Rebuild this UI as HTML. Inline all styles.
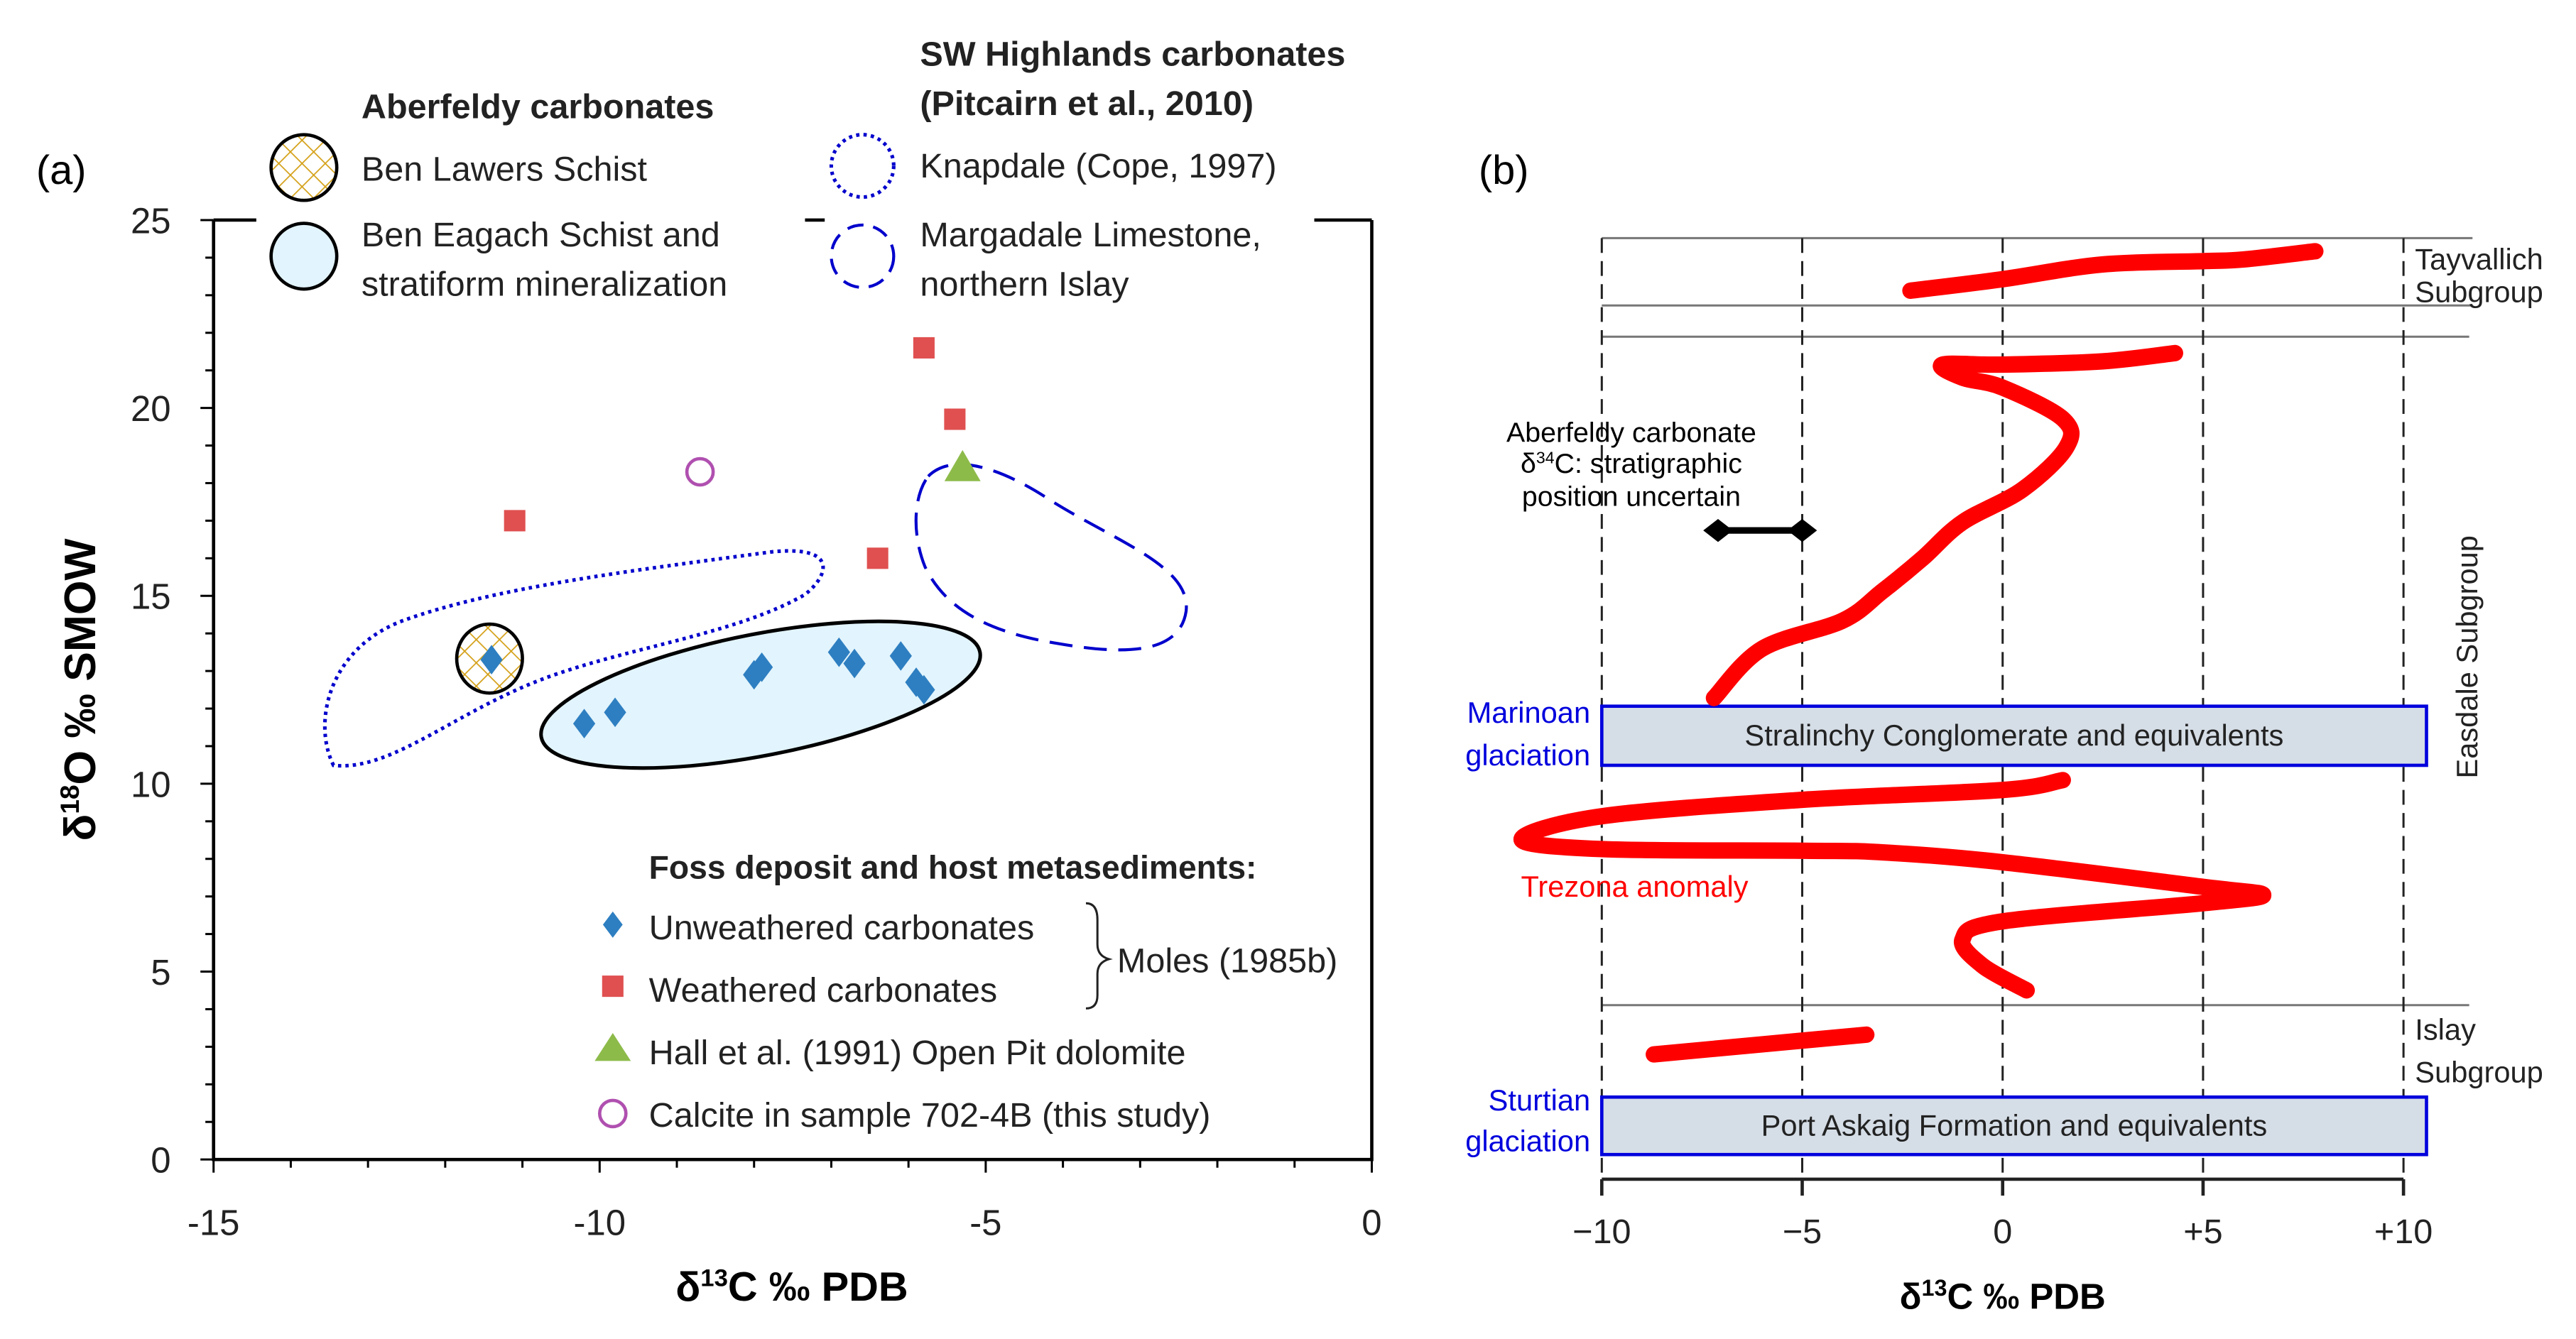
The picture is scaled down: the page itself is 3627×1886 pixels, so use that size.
<!DOCTYPE html>
<html><head><meta charset="utf-8"><style>
html,body{margin:0;padding:0;background:#fff}
svg{display:block}
text{font-family:"Liberation Sans","DejaVu Sans",sans-serif}
</style></head><body>
<svg id="fig" width="3627" height="1886" viewBox="0 0 1568 815.3" preserveAspectRatio="none" xmlns="http://www.w3.org/2000/svg">
<defs>
<pattern id="hatch" width="10" height="10" patternUnits="userSpaceOnUse" patternTransform="rotate(45)">
<rect width="10" height="10" fill="#fff"/>
<line x1="0" y1="0" x2="0" y2="10" stroke="#d4a017" stroke-width="1.5"/>
<line x1="0" y1="0" x2="10" y2="0" stroke="#d4a017" stroke-width="1.5"/>
</pattern>
</defs>
<g id="panelA"></g>
<g id="panelB"></g>
</svg>
<script>
// ---------- Panel (a) data ----------
const unweatheredX = [-11.4,-10.2,-9.8,-8.0,-7.9,-6.9,-6.7,-6.1,-5.9,-5.8];
const unweatheredY = [13.3,11.6,11.9,12.9,13.1,13.5,13.2,13.4,12.7,12.5];
const weatheredX = [-11.1,-5.8,-5.4,-6.4];
const weatheredY = [17.0,21.6,19.7,16.0];
const hallX = [-5.3];
const hallY = [18.4];
const calciteX = [-8.7];
const calciteY = [18.3];
const xTicksA = [-15,-10,-5,0];
const yTicksA = [0,5,10,15,20,25];
const xTickLabelsA = ["-15","-10","-5","0"];
const yTickLabelsA = ["0","5","10","15","20","25"];

// ---------- Panel (b) data ----------
const tayX = [-2.3,0,2.5,5,6,7.8];
const tayY = [177,170,161,159,158,153];
const upperX = [4.3,2.5,0,-1.5,-1,0,1.5,1.6,0.5,-1,-2,-3,-4,-6,-7.2];
const upperY = [215,220,222,222,230,236,255,272,298,318,340,360,378,395,425];
const trezonaX = [1.5,0,-5,-10,-12,-10,-5,-3,0,5,6.5,5,0,-1,-0.5,0.6];
const trezonaY = [475,481,487,497,511,517,518,519,525,540,545,550,561,572,588,603];
const islayX = [-8.7,-3.4];
const islayY = [642,630];
const xTicksB = [-10,-5,0,5,10];
const xTickLabelsB = ["\u221210","\u22125","0","+5","+10"];

const NS="http://www.w3.org/2000/svg";
function mk(parent,tag,attrs,txt){const e=document.createElementNS(NS,tag);for(const k in attrs)e.setAttribute(k,attrs[k]);if(txt!==undefined)e.textContent=txt;parent.appendChild(e);return e;}

// ---- Panel A ----
const A=document.getElementById('panelA');
const ax=v=>130+(v+15)/15*705;
const ay=v=>706-v/25*572;
let e;
e=mk(A,'text',{x:22,y:112,'font-size':25},'(a)');


e=mk(A,'path',{d:'M130,134 V706 H835 V134 M130,134 H156 M490,134 H502 M800,134 H835',fill:'none',stroke:'#000','stroke-width':2});


for(let v=0;v<=25;v++){
  const L=(v%5===0)?8:5;
  e=mk(A,'line',{x1:130-L,x2:130,y1:ay(v),y2:ay(v),stroke:'#000','stroke-width':1.3});
  
  
}
for(let v=-15;v<=0;v++){
  e=mk(A,'line',{x1:ax(v),x2:ax(v),y1:706,y2:706+(v%5===0?8:5),stroke:'#000','stroke-width':1.3});
  
  
}
yTicksA.forEach((v,i)=>{e=mk(A,'text',{x:104,y:ay(v)+8,'font-size':22,'text-anchor':'end',fill:'#222'},yTickLabelsA[i]);

});
xTicksA.forEach((v,i)=>{e=mk(A,'text',{x:ax(v),y:752,'font-size':22,'text-anchor':'middle',fill:'#222'},xTickLabelsA[i]);

});
e=mk(A,'text',{x:482,y:792,'font-size':25,'font-weight':'bold','text-anchor':'middle'});
e.innerHTML='δ<tspan dy="-9" font-size="15">13</tspan><tspan dy="9">C ‰ PDB</tspan>';


e=mk(A,'text',{x:0,y:0,'font-size':27,'font-weight':'bold','text-anchor':'middle',transform:'translate(58,420) rotate(-90)'});
e.innerHTML='δ<tspan dy="-10" font-size="16">18</tspan><tspan dy="10">O ‰ SMOW</tspan>';


e=mk(A,'path',{d:'M203,466 C190,440 200,395 245,378 C300,358 380,348 470,336 C510,332 505,350 490,362 C450,385 390,393 340,410 C280,430 240,470 203,466 Z',fill:'none',stroke:'#0000cc','stroke-width':2.2,'stroke-dasharray':'2,2.5'});


e=mk(A,'path',{d:'M565,290 C580,275 610,285 640,305 C680,330 725,345 722,372 C718,400 680,398 645,392 C600,385 575,370 563,345 C555,325 556,302 565,290 Z',fill:'none',stroke:'#0000cc','stroke-width':1.8,'stroke-dasharray':'14,7'});


e=mk(A,'ellipse',{cx:463,cy:423,rx:136,ry:37,transform:'rotate(-11 463 423)',fill:'#e2f4fd',stroke:'#000','stroke-width':2.2});


e=mk(A,'ellipse',{cx:298,cy:401,rx:20,ry:21,fill:'url(#hatch)',stroke:'#000','stroke-width':2});


function diamond(g,cx,cy,s,fill){return mk(g,'path',{d:`M${cx},${cy-s} L${cx+s*0.75},${cy} L${cx},${cy+s} L${cx-s*0.75},${cy} Z`,fill:fill});}
unweatheredX.forEach((v,i)=>{e=diamond(A,ax(v),ay(unweatheredY[i]),9,'#2e7fc1');

});
weatheredX.forEach((v,i)=>{e=mk(A,'rect',{x:ax(v)-6.5,y:ay(weatheredY[i])-6.5,width:13,height:13,fill:'#e05050'});

});
hallX.forEach((v,i)=>{const cx=ax(v),cy=ay(hallY[i]);e=mk(A,'path',{d:`M${cx},${cy-11} L${cx+11},${cy+8} L${cx-11},${cy+8} Z`,fill:'#8dbb4a'});

});
calciteX.forEach((v,i)=>{e=mk(A,'circle',{cx:ax(v),cy:ay(calciteY[i]),r:8,fill:'none',stroke:'#b050b0','stroke-width':2});

});
const lg=mk(A,'g',{});


mk(lg,'text',{x:220,y:72,'font-size':21,'font-weight':'bold',fill:'#222'},'Aberfeldy carbonates');
mk(lg,'circle',{cx:185,cy:102,r:20,fill:'url(#hatch)',stroke:'#000','stroke-width':2});
mk(lg,'text',{x:220,y:110,'font-size':21,fill:'#222'},'Ben Lawers Schist');
mk(lg,'circle',{cx:185,cy:156,r:20,fill:'#e2f4fd',stroke:'#000','stroke-width':2});
mk(lg,'text',{x:220,y:150,'font-size':21,fill:'#222'},'Ben Eagach Schist and');
mk(lg,'text',{x:220,y:180,'font-size':21,fill:'#222'},'stratiform mineralization');
mk(lg,'text',{x:560,y:40,'font-size':21,'font-weight':'bold',fill:'#222'},'SW Highlands carbonates');
mk(lg,'text',{x:560,y:70,'font-size':21,'font-weight':'bold',fill:'#222'},'(Pitcairn et al., 2010)');
mk(lg,'circle',{cx:525,cy:101,r:19,fill:'none',stroke:'#0000cc','stroke-width':2.2,'stroke-dasharray':'2,2.5'});
mk(lg,'text',{x:560,y:108,'font-size':21,fill:'#222'},'Knapdale (Cope, 1997)');
mk(lg,'circle',{cx:525,cy:156,r:19,fill:'none',stroke:'#0000cc','stroke-width':1.8,'stroke-dasharray':'10,6'});
mk(lg,'text',{x:560,y:150,'font-size':21,fill:'#222'},'Margadale Limestone,');
mk(lg,'text',{x:560,y:180,'font-size':21,fill:'#222'},'northern Islay');
const fl=mk(A,'g',{});


mk(fl,'text',{x:395,y:535,'font-size':20,'font-weight':'bold',fill:'#222'},'Foss deposit and host metasediments:');
diamond(fl,373,563,8,'#2e7fc1');
mk(fl,'text',{x:395,y:572,'font-size':21,fill:'#222'},'Unweathered carbonates');
mk(fl,'rect',{x:366.5,y:594,width:13,height:13,fill:'#e05050'});
mk(fl,'text',{x:395,y:610,'font-size':21,fill:'#222'},'Weathered carbonates');
mk(fl,'path',{d:'M373,629 L384,646 L362,646 Z',fill:'#8dbb4a'});
mk(fl,'text',{x:395,y:648,'font-size':21,fill:'#222'},'Hall et al. (1991) Open Pit dolomite');
mk(fl,'circle',{cx:373,cy:678,r:8,fill:'none',stroke:'#b050b0','stroke-width':2});
mk(fl,'text',{x:395,y:686,'font-size':21,fill:'#222'},'Calcite in sample 702-4B (this study)');
mk(fl,'path',{d:'M661,550 Q668,550 668,560 L668,575 Q668,582 675,584 Q668,586 668,593 L668,606 Q668,614 661,614',fill:'none',stroke:'#222','stroke-width':1.3});
mk(fl,'text',{x:680,y:592,'font-size':21,fill:'#222'},'Moles (1985b)');

// ---- Panel B ----
const B=document.getElementById('panelB');
const bx=v=>1219+v*24.4;
e=mk(B,'text',{x:900,y:112,'font-size':25},'(b)');


[[145,1505],[186,1505],[205,1503],[612,1503]].forEach(r=>{e=mk(B,'line',{x1:975,x2:r[1],y1:r[0],y2:r[0],stroke:'#777','stroke-width':1.3});

});
xTicksB.forEach(v=>{e=mk(B,'line',{x1:bx(v),x2:bx(v),y1:145,y2:718,stroke:'#222','stroke-width':1.3,'stroke-dasharray':'9,5'});

});
[[430,466,'Stralinchy Conglomerate and equivalents','stralinchy-box'],[668,703,'Port Askaig Formation and equivalents','port-askaig-box']].forEach(b=>{
  e=mk(B,'rect',{x:975,y:b[0],width:502,height:b[1]-b[0],fill:'#d5dde6',stroke:'#0000dd','stroke-width':2});
  
  
  e=mk(B,'text',{x:1226,y:(b[0]+b[1])/2+6,'font-size':18,'text-anchor':'middle',fill:'#222'},b[2]);
  
  
});
e=mk(B,'line',{x1:975,x2:1463,y1:718,y2:718,stroke:'#222','stroke-width':2});


xTicksB.forEach((v,i)=>{mk(B,'line',{x1:bx(v),x2:bx(v),y1:718,y2:728,stroke:'#222','stroke-width':2});
e=mk(B,'text',{x:bx(v),y:757,'font-size':21,'text-anchor':'middle',fill:'#222'},xTickLabelsB[i]);

});
e=mk(B,'text',{x:1219,y:797,'font-size':22,'font-weight':'bold','text-anchor':'middle'});
e.innerHTML='δ<tspan dy="-8" font-size="14">13</tspan><tspan dy="8">C ‰ PDB</tspan>';


function curve(xs,ys){
  const P=xs.map((v,i)=>[bx(v),ys[i]]);
  let d='M'+P[0][0].toFixed(1)+','+P[0][1];
  for(let i=0;i<P.length-1;i++){
    const p0=P[i-1]||P[i],p1=P[i],p2=P[i+1],p3=P[i+2]||P[i+1];
    const c1=[p1[0]+(p2[0]-p0[0])/6,p1[1]+(p2[1]-p0[1])/6];
    const c2=[p2[0]-(p3[0]-p1[0])/6,p2[1]-(p3[1]-p1[1])/6];
    d+=` C${c1[0].toFixed(1)},${c1[1].toFixed(1)} ${c2[0].toFixed(1)},${c2[1].toFixed(1)} ${p2[0].toFixed(1)},${p2[1]}`;
  }
  return mk(B,'path',{d:d,fill:'none',stroke:'#ff0000','stroke-width':10,'stroke-linejoin':'round','stroke-linecap':'round'});
}
e=curve(tayX,tayY);


e=curve(upperX,upperY);


e=curve(trezonaX,trezonaY);


e=curve(islayX,islayY);


e=mk(B,'line',{x1:bx(-7.1),x2:bx(-5),y1:323,y2:323,stroke:'#000','stroke-width':4});


[-7.1,-5].forEach(v=>{const c=bx(v);mk(B,'path',{d:`M${c-9},323 L${c},316 L${c+9},323 L${c},330 Z`,fill:'#000'});});
const tb=[['Aberfeldy carbonate',269,'#000'],['position uncertain',308,'#000']];
tb.forEach(t=>mk(B,'text',{x:993,y:t[1],'font-size':17,'text-anchor':'middle',fill:t[2]},t[0]));
e=mk(B,'text',{x:993,y:288,'font-size':17,'text-anchor':'middle'});
e.innerHTML='δ<tspan dy="-6" font-size="10">34</tspan><tspan dy="6">C: stratigraphic</tspan>';
[['Marinoan',440],['glaciation',466],['Sturtian',676],['glaciation',701]].forEach(t=>{e=mk(B,'text',{x:968,y:t[1],'font-size':18,'text-anchor':'end',fill:'#0000dd'},t[0]);

});
e=mk(B,'text',{x:995,y:546,'font-size':18,'text-anchor':'middle',fill:'#ff0000'},'Trezona anomaly');


[['Tayvallich',164],['Subgroup',184],['Islay',633],['Subgroup',659]].forEach(t=>mk(B,'text',{x:1470,y:t[1],'font-size':18,fill:'#222'},t[0]));
e=mk(B,'text',{x:0,y:0,'font-size':18,'text-anchor':'middle',fill:'#222',transform:'translate(1508,400) rotate(-90)'},'Easdale Subgroup');


</script>
</body></html>
